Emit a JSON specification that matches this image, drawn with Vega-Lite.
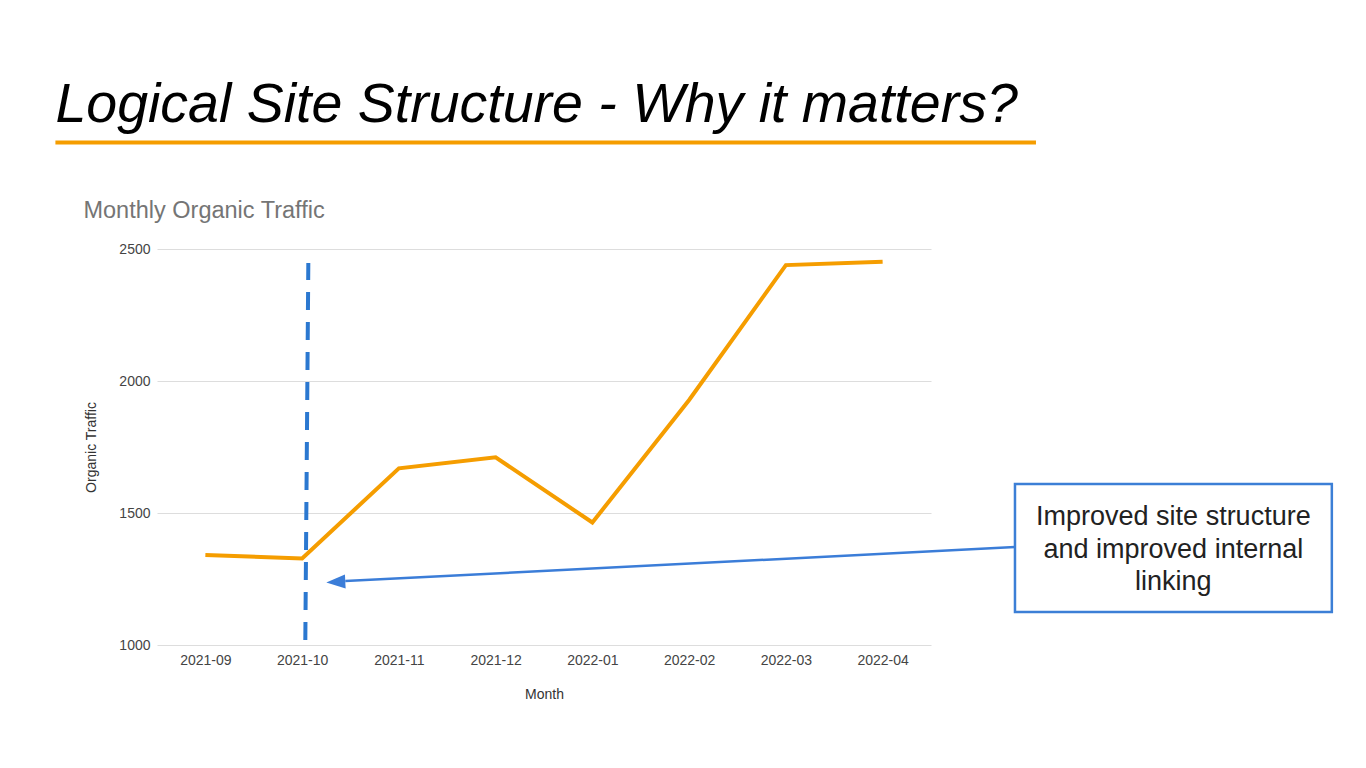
{
  "$schema": "https://vega.github.io/schema/vega-lite/v6.json",
  "width": 774,
  "height": 396,
  "autosize": {"type": "none"},
  "padding": {"left": 157, "top": 249, "right": 435, "bottom": 123},
  "background": "white",
  "config": {
    "view": {"stroke": null},
    "font": "Liberation Sans",
    "axis": {
      "labelFont": "Liberation Sans",
      "titleFont": "Liberation Sans",
      "labelFontSize": 14,
      "labelColor": "#444444",
      "titleFontSize": 14,
      "titleColor": "#333333",
      "titleFontWeight": "normal",
      "ticks": false,
      "domain": false
    }
  },
  "data": {
    "values": [
      {"month": "2021-09", "i": 0, "traffic": 1341},
      {"month": "2021-10", "i": 1, "traffic": 1328},
      {"month": "2021-11", "i": 2, "traffic": 1669},
      {"month": "2021-12", "i": 3, "traffic": 1711},
      {"month": "2022-01", "i": 4, "traffic": 1464},
      {"month": "2022-02", "i": 5, "traffic": 1928},
      {"month": "2022-03", "i": 6, "traffic": 2439},
      {"month": "2022-04", "i": 7, "traffic": 2452}
    ]
  },
  "layer": [
    {
      "data": {"values": [{}]},
      "mark": {"type": "rule", "color": "#2b78d0", "strokeWidth": 4, "strokeDash": [18, 12], "strokeCap": "butt"},
      "encoding": {
        "x": {"datum": 1.033, "type": "quantitative"},
        "x2": {"datum": 1.064},
        "y": {"datum": 1019, "type": "quantitative"},
        "y2": {"datum": 2447}
      }
    },
    {
      "mark": {"type": "line", "color": "#f59d00", "strokeWidth": 4},
      "encoding": {
        "x": {
          "field": "i",
          "type": "quantitative",
          "scale": {"domain": [-0.5, 7.5], "nice": false, "zero": false},
          "axis": {
            "values": [0, 1, 2, 3, 4, 5, 6, 7],
            "labelExpr": "['2021-09','2021-10','2021-11','2021-12','2022-01','2022-02','2022-03','2022-04'][datum.value]",
            "grid": false,
            "labelPadding": 8,
            "title": "Month",
            "titlePadding": 20
          }
        },
        "y": {
          "field": "traffic",
          "type": "quantitative",
          "scale": {"domain": [1000, 2500], "nice": false, "zero": false},
          "axis": {
            "values": [1000, 1500, 2000, 2500],
            "format": "d",
            "grid": true,
            "gridColor": "#dddddd",
            "labelPadding": 7,
            "title": "Organic Traffic",
            "titlePadding": 20
          }
        }
      }
    },
    {
      "data": {"values": [{}]},
      "mark": {"type": "text", "text": "Logical Site Structure - Why it matters?", "fontSize": 55.5, "fontStyle": "italic", "align": "left", "baseline": "alphabetic", "color": "#000000"},
      "encoding": {
        "x": {"datum": -1.55, "type": "quantitative"},
        "y": {"datum": 2981, "type": "quantitative"}
      }
    },
    {
      "data": {"values": [{}]},
      "mark": {"type": "rule", "color": "#f59d00", "strokeWidth": 4},
      "encoding": {
        "x": {"datum": -1.55, "type": "quantitative"},
        "x2": {"datum": 8.585},
        "y": {"datum": 2903, "type": "quantitative"}
      }
    },
    {
      "data": {"values": [{}]},
      "mark": {"type": "text", "text": "Monthly Organic Traffic", "fontSize": 23.5, "align": "left", "baseline": "alphabetic", "color": "#757575"},
      "encoding": {
        "x": {"datum": -1.26, "type": "quantitative"},
        "y": {"datum": 2617, "type": "quantitative"}
      }
    },
    {
      "data": {"values": [{}]},
      "mark": {"type": "rule", "color": "#3b7dd8", "strokeWidth": 2.5},
      "encoding": {
        "x": {"datum": 8.368, "type": "quantitative"},
        "x2": {"datum": 1.446},
        "y": {"datum": 1371, "type": "quantitative"},
        "y2": {"datum": 1242}
      }
    },
    {
      "data": {"values": [{}]},
      "mark": {"type": "point", "shape": "M-1,0L1,-0.74L1,0.74Z", "size": 361, "filled": true, "opacity": 1, "color": "#3b7dd8", "angle": -2.9},
      "encoding": {
        "x": {"datum": 1.348, "type": "quantitative"},
        "y": {"datum": 1239, "type": "quantitative"}
      }
    },
    {
      "data": {"values": [{}]},
      "mark": {"type": "rect", "fill": "white", "stroke": "#3c7fd6", "strokeWidth": 2.5},
      "encoding": {
        "x": {"datum": 8.368, "type": "quantitative"},
        "x2": {"datum": 11.643},
        "y": {"datum": 1610, "type": "quantitative"},
        "y2": {"datum": 1125}
      }
    },
    {
      "data": {"values": [{}]},
      "mark": {"type": "text", "text": ["Improved site structure", "and improved internal", "linking"], "fontSize": 27, "lineHeight": 32.5, "align": "center", "baseline": "alphabetic", "color": "#222222"},
      "encoding": {
        "x": {"datum": 10.005, "type": "quantitative"},
        "y": {"datum": 1454, "type": "quantitative"}
      }
    }
  ]
}
